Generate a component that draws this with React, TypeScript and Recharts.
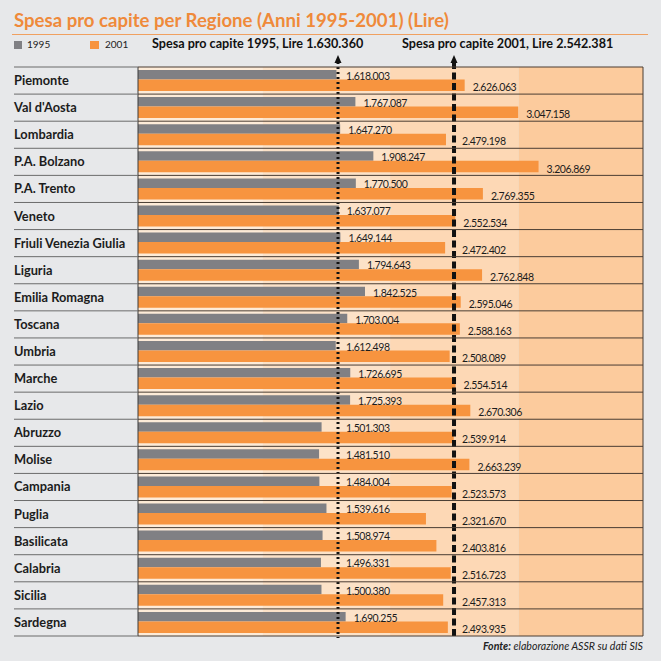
import { BarChart, Bar, XAxis, YAxis, ReferenceArea, ReferenceLine, LabelList } from 'recharts';

const regions = [
  'Piemonte', "Val d'Aosta", 'Lombardia', 'P.A. Bolzano', 'P.A. Trento', 'Veneto',
  'Friuli Venezia Giulia', 'Liguria', 'Emilia Romagna', 'Toscana', 'Umbria', 'Marche',
  'Lazio', 'Abruzzo', 'Molise', 'Campania', 'Puglia', 'Basilicata', 'Calabria', 'Sicilia', 'Sardegna',
];
const spesa1995 = [
  1618003, 1767087, 1647270, 1908247, 1770500, 1637077, 1649144, 1794643, 1842525, 1703004, 1612498,
  1726695, 1725393, 1501303, 1481510, 1484004, 1539616, 1508974, 1496331, 1500380, 1690255,
];
const spesa2001 = [
  2626063, 3047158, 2479198, 3206869, 2769355, 2552534, 2472402, 2762848, 2595046, 2588163, 2508089,
  2554514, 2670306, 2539914, 2663239, 2523573, 2321670, 2403816, 2516723, 2457313, 2493935,
];
const media1995 = 1630360;
const media2001 = 2542381;
// background bands behind the bars
const bandStarts = [58000, 1040000, 2040000, 3050000];
const bandEnds = [1040000, 2040000, 3050000, 4028000];
const bandColors = ['#fdebd8', '#fce2c8', '#fdd8b5', '#fccb9d'];

const data = regions.map((name, i) => ({ name, v1995: spesa1995[i], v2001: spesa2001[i] }));

const W = 661;
const H = 661;
const LEFT = 138;
const RIGHT = 643;
const TOP = 67;
const BOTTOM = 636;
const D0 = 58000;
const D1 = 4028000;
const ROW = (BOTTOM - TOP) / regions.length;

const toPx = (v: number) => LEFT + ((v - D0) / (D1 - D0)) * (RIGHT - LEFT);
const fmt = (n: number) => n.toString().replace(/\B(?=(\d{3})+(?!\d))/g, '.');

const FONT = 'Lato, "DejaVu Sans", sans-serif';
const GREY = '#808084';
const ORANGE = '#f7943f';

const RegionTick = ({ y, payload, index }: any) => (
  <g>
    {index === 0 && (
      <>
        <line x1={14} x2={LEFT} y1={y - ROW / 2} y2={y - ROW / 2} stroke="#6b6b6b" />
        <line x1={LEFT} x2={RIGHT} y1={y - ROW / 2} y2={y - ROW / 2} stroke="#4a3d33" />
        <line x1={RIGHT} x2={RIGHT} y1={TOP} y2={BOTTOM} stroke="#4a3d33" />
      </>
    )}
    <text x={14} y={y} dy={4.5} fontSize={12.8} fontWeight={700} fill="#1c1c1c" fontFamily={FONT}>
      {payload.value}
    </text>
    <line x1={14} x2={LEFT} y1={y + ROW / 2} y2={y + ROW / 2} stroke="#6b6b6b" />
    <line x1={LEFT} x2={RIGHT} y1={y + ROW / 2} y2={y + ROW / 2} stroke="#4a3d33" />
  </g>
);

const valueLabel = (linePx: number, dy: number) => (props: any) => {
  const { x, y, width, height, value } = props;
  const end = Math.max(Number(x) + Number(width), linePx);
  return (
    <text
      x={end + 8}
      y={Number(y) + Number(height) / 2 + dy}
      dominantBaseline="central"
      fontSize={10.5}
      letterSpacing={-0.45}
      fill="#1c1c1c"
      fontFamily={FONT}
    >
      {fmt(Number(value))}
    </text>
  );
};

const arrowLine = (width: number, dash: string) => (p: any) => {
  const x = Number(p.x1);
  return (
    <g>
      <line x1={x} x2={x} y1={62} y2={BOTTOM + 2} stroke="#111" strokeWidth={width} strokeDasharray={dash} />
      <polygon points={`${x},55 ${x - 3.5},63 ${x + 3.5},63`} fill="#111" />
    </g>
  );
};

export default function App() {
  return (
    <div
      style={{
        position: 'absolute',
        left: 0,
        top: 0,
        width: W,
        height: H,
        background: '#e7e8ea',
        overflow: 'hidden',
        fontFamily: FONT,
      }}
    >
      <div style={{ position: 'absolute', left: 14, top: 9, fontSize: 18.6, fontWeight: 700, color: '#ef8a3a', whiteSpace: 'nowrap' }}>
        Spesa pro capite per Regione (Anni 1995-2001) (Lire)
      </div>
      <div style={{ position: 'absolute', left: 12, top: 34, width: 636, height: 1, background: '#f0a060' }} />

      {/* legend + averages */}
      <div style={{ position: 'absolute', left: 14, top: 41, width: 8, height: 8, background: GREY }} />
      <div style={{ position: 'absolute', left: 27, top: 38, fontSize: 10, color: '#222' }}>1995</div>
      <div style={{ position: 'absolute', left: 90, top: 41, width: 9, height: 8, background: ORANGE }} />
      <div style={{ position: 'absolute', left: 105, top: 38, fontSize: 10, color: '#222' }}>2001</div>
      <div style={{ position: 'absolute', left: 152, top: 36, fontSize: 12.6, fontWeight: 700, color: '#111', whiteSpace: 'nowrap' }}>
        Spesa pro capite 1995, Lire {fmt(media1995)}
      </div>
      <div style={{ position: 'absolute', left: 402, top: 36, fontSize: 12.6, fontWeight: 700, color: '#111', whiteSpace: 'nowrap' }}>
        Spesa pro capite 2001, Lire {fmt(media2001)}
      </div>

      <div style={{ position: 'absolute', left: 0, top: 0 }}>
        <BarChart
          width={W}
          height={H}
          data={data}
          layout="vertical"
          margin={{ top: TOP, right: W - RIGHT, bottom: H - BOTTOM, left: 0 }}
          barGap={0}
        >
          <XAxis type="number" domain={[D0, D1]} allowDataOverflow hide />
          <YAxis
            type="category"
            dataKey="name"
            width={LEFT}
            axisLine={{ stroke: '#3a3a3a' }}
            tickLine={false}
            tick={<RegionTick />}
            interval={0}
          />
          {bandStarts.map((s, i) => (
            <ReferenceArea key={i} x1={s} x2={bandEnds[i]} fill={bandColors[i]} fillOpacity={1} stroke="none" />
          ))}
          <Bar dataKey="v1995" fill={GREY} barSize={9.5} isAnimationActive={false}>
            <LabelList dataKey="v1995" content={valueLabel(toPx(media1995), 1)} />
          </Bar>
          <Bar dataKey="v2001" fill={ORANGE} barSize={11.5} isAnimationActive={false}>
            <LabelList dataKey="v2001" content={valueLabel(toPx(media2001), 2)} />
          </Bar>
          <ReferenceLine x={media1995} stroke="#111" shape={arrowLine(3, '2 3')} />
          <ReferenceLine x={media2001} stroke="#111" shape={arrowLine(4, '7 3.5')} />
        </BarChart>
      </div>

      <div style={{ position: 'absolute', right: 18, top: 640, fontSize: 10.6, fontStyle: 'italic', color: '#222', whiteSpace: 'nowrap' }}>
        <b>Fonte:</b> elaborazione ASSR su dati SIS
      </div>
    </div>
  );
}
